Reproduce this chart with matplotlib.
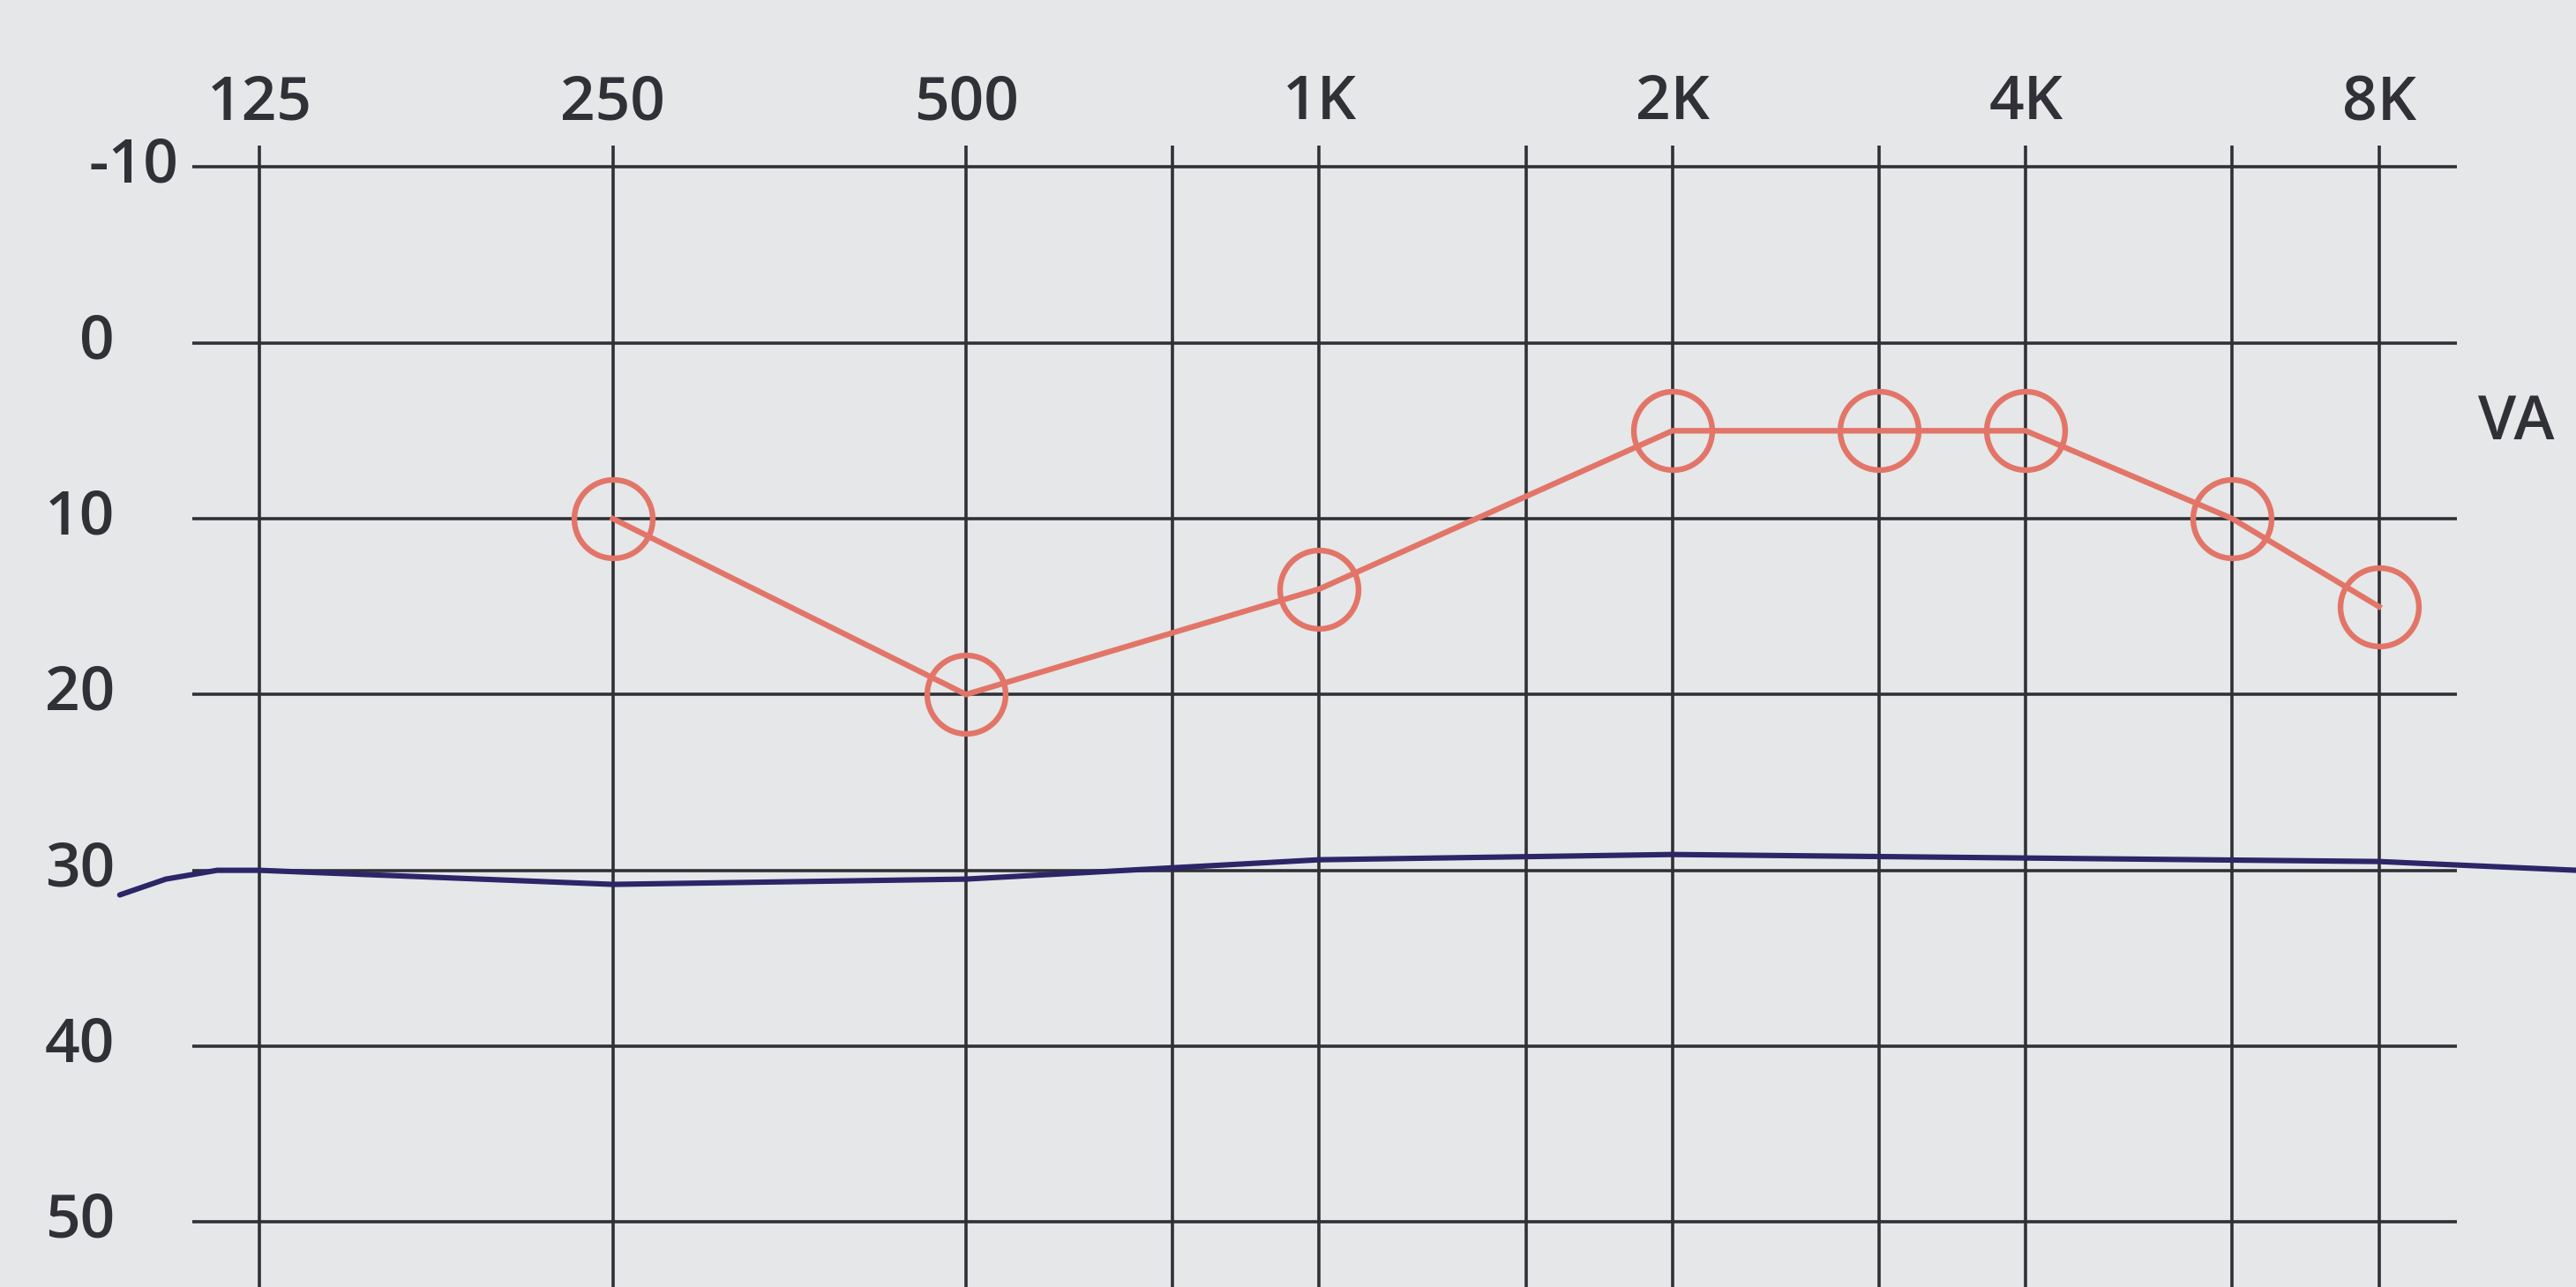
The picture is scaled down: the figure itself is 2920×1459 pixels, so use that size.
"""Audiogram sheet: air-conduction thresholds (VA) against frequency"""
import numpy as np
import matplotlib
matplotlib.use("Agg")
from matplotlib import pyplot as plt

# frequency grid of the printed form (Hz)
freq_lines = [125, 250, 500, 750, 1000, 1500, 2000, 3000, 4000, 6000, 8000]
freq_labelled = [125, 250, 500, 1000, 2000, 4000, 8000]
freq_labels = ["125", "250", "500", "1K", "2K", "4K", "8K"]

# hearing level grid (dB)
db_lines = [-10, 0, 10, 20, 30, 40, 50]
db_labels = ["-10", "0", "10", "20", "30", "40", "50"]

# red threshold curve (VA)
va_freq = [250, 500, 1000, 2000, 3000, 4000, 6000, 8000]
va_db = [10, 20, 14, 5, 5, 5, 10, 15]

# hand-drawn blue line near 30 dB
blue_freq = [95, 104, 115, 125, 250, 500, 1000, 2000, 4000, 8000, 11800]
blue_db = [31.4, 30.5, 30.0, 30.0, 30.8, 30.5, 29.4, 29.1, 29.3, 29.5, 30.0]

PAPER = "#e5e7e9"
INK = "#303036"
RED = "#e27568"
BLUE = "#2c2668"


def octaves(freqs):
    """Position on the sheet in octaves above 125 Hz"""
    return np.log2(np.asarray(freqs, dtype=float) / 125.0)


fig = plt.figure(figsize=(29.2, 14.59), dpi=100, facecolor=PAPER)
ax = fig.add_axes([0, 0, 1, 1])
ax.set_facecolor(PAPER)
ax.set_xlim(-0.735, 6.558)
ax.set_ylim(53.7, -19.5)
ax.axis("off")

# printed grid
ax.hlines(db_lines, -0.19, 6.22, color=INK, lw=2.6, zorder=1)
ax.vlines(octaves(freq_lines), -11.2, 56, color=INK, lw=2.6, zorder=1)

text_style = dict(family=["Open Sans", "DejaVu Sans"], color=INK,
                  fontsize=50, fontweight="semibold")
for f, lab in zip(freq_labelled, freq_labels):
    ax.text(octaves([f])[0], -13.6, lab, ha="center", va="center", **text_style)
for d, lab in zip(db_lines, db_labels):
    x = -0.23 if d < 0 else -0.41
    ax.text(x, d, lab, ha="right", va="center", **text_style)
ax.text(6.39, 4.6, "VA", ha="center", va="center", **text_style)

# pen marks
ax.plot(octaves(blue_freq), blue_db, color=BLUE, lw=4.4, zorder=3,
        solid_capstyle="round", solid_joinstyle="round")
ax.plot(octaves(va_freq), va_db, color=RED, lw=4.6, zorder=4,
        marker="o", markersize=64, markerfacecolor="none",
        markeredgecolor=RED, markeredgewidth=4.6)

fig.savefig("out.png", dpi=100, facecolor=PAPER)
